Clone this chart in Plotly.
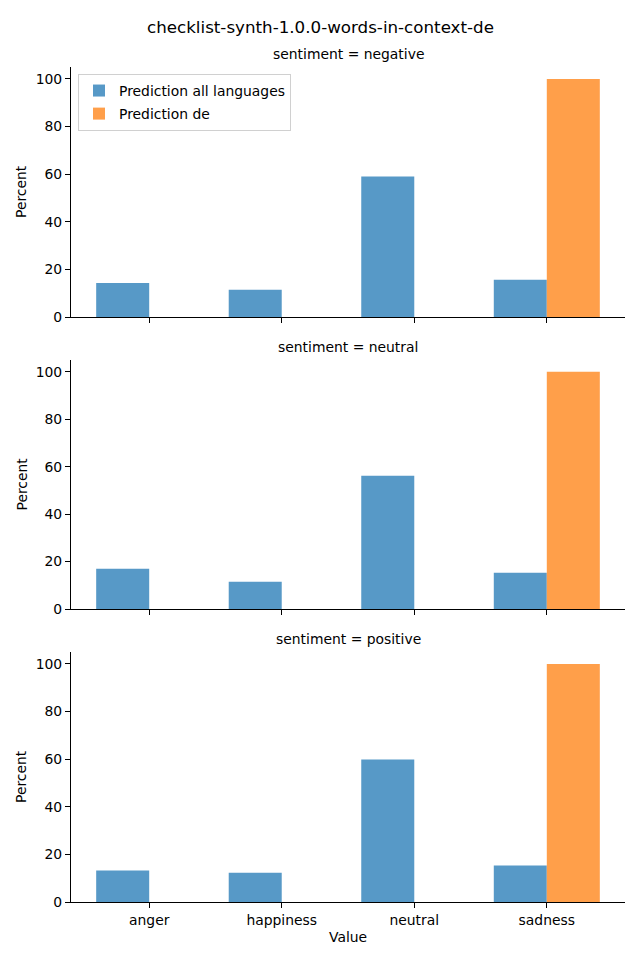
import plotly.graph_objects as go

categories = ["anger", "happiness", "neutral", "sadness"]
sentiments = ["negative", "neutral", "positive"]
all_languages = {
    "negative": [14.3, 11.4, 59.0, 15.6],
    "neutral": [17.0, 11.5, 56.2, 15.3],
    "positive": [13.2, 12.3, 59.8, 15.3],
}
pred_de = {
    "negative": [0, 0, 0, 100],
    "neutral": [0, 0, 0, 100],
    "positive": [0, 0, 0, 100],
}
yticks = [0, 20, 40, 60, 80, 100]
title = "checklist-synth-1.0.0-words-in-context-de"

BLUE = "#5799c7"
ORANGE = "#ff9f4a"
FONT = "DejaVu Sans"
FS = 13.9

OFF = 8  # page body margin offset
W, H = 640, 960
# reference pixel coordinates of plot area
PX_L, PX_R, PX_T, PX_B = 71, 625, 67, 902
L = PX_L - OFF
R = W - (PX_R - OFF)
T = PX_T - OFF
B = H - (PX_B - OFF)
pw = W - L - R
ph = H - T - B
panels = [(67, 317), (360, 609), (652, 902)]  # reference pixel top/bottom


def px_x(x):
    return (x - PX_L) / pw


def px_y(y):
    return (PX_B - y) / ph


fig = go.Figure()
xs = list(range(len(categories)))
annotations = []
for i, s in enumerate(sentiments):
    ax = "" if i == 0 else str(i + 1)
    fig.add_trace(go.Bar(x=xs, y=all_languages[s], name="Prediction all languages",
                         marker=dict(color=BLUE, line=dict(width=0)),
                         xaxis="x" + ax, yaxis="y" + ax, showlegend=(i == 0),
                         offsetgroup="a", legendgroup="a"))
    fig.add_trace(go.Bar(x=xs, y=pred_de[s], name="Prediction de",
                         marker=dict(color=ORANGE, line=dict(width=0)),
                         xaxis="x" + ax, yaxis="y" + ax, showlegend=(i == 0),
                         offsetgroup="b", legendgroup="b"))
    top, bot = panels[i]
    d = [px_y(bot), px_y(top)]
    xa = dict(domain=[0, 1], range=[-0.59, 3.59], anchor="y" + ax,
              tickmode="array", tickvals=xs,
              ticktext=categories if i == 2 else [""] * 4,
              showline=True, linecolor="black", linewidth=1.1,
              ticks="outside", ticklen=5, tickwidth=1.1, tickcolor="black",
              showgrid=False, zeroline=False,
              tickfont=dict(family=FONT, size=FS, color="black"))
    ya = dict(domain=d, range=[0, 105], anchor="x" + ax,
              tickmode="array", tickvals=yticks,
              showline=True, linecolor="black", linewidth=1.1,
              ticks="outside", ticklen=5, tickwidth=1.1, tickcolor="black",
              showgrid=False, zeroline=False,
              tickfont=dict(family=FONT, size=FS, color="black"))
    fig.layout["xaxis" + ax] = xa
    fig.layout["yaxis" + ax] = ya
    annotations.append(dict(text=f"sentiment = {s}", xref="paper", yref="paper",
                            x=0.5, y=px_y(top - 13), xanchor="center", yanchor="middle",
                            showarrow=False, font=dict(family=FONT, size=FS, color="black")))
    annotations.append(dict(text="Percent", xref="paper", yref="paper",
                            x=px_x(21), y=(d[0] + d[1]) / 2,
                            xanchor="center", yanchor="middle", textangle=-90,
                            showarrow=False, font=dict(family=FONT, size=FS, color="black")))

annotations.append(dict(text="Value", xref="paper", yref="paper",
                        x=0.5, y=px_y(937), xanchor="center", yanchor="middle",
                        showarrow=False, font=dict(family=FONT, size=FS, color="black")))
annotations.append(dict(text=title, xref="paper", yref="paper",
                        x=px_x(320), y=px_y(27), xanchor="center", yanchor="middle",
                        showarrow=False, font=dict(family=FONT, size=16.7, color="black")))

fig.update_layout(
    width=W, height=H,
    margin=dict(l=L, r=R, t=T, b=B),
    paper_bgcolor="white", plot_bgcolor="white",
    barmode="group", bargap=0.2, bargroupgap=0,
    annotations=annotations,
    showlegend=True,
    legend=dict(x=px_x(78), y=px_y(74), xanchor="left", yanchor="top",
                bgcolor="white", bordercolor="#d0d0d0", borderwidth=1,
                font=dict(family=FONT, size=FS, color="black"),
                tracegroupgap=2, itemwidth=30),
    font=dict(family=FONT, size=FS, color="black"),
)

fig.write_html("out.html")
